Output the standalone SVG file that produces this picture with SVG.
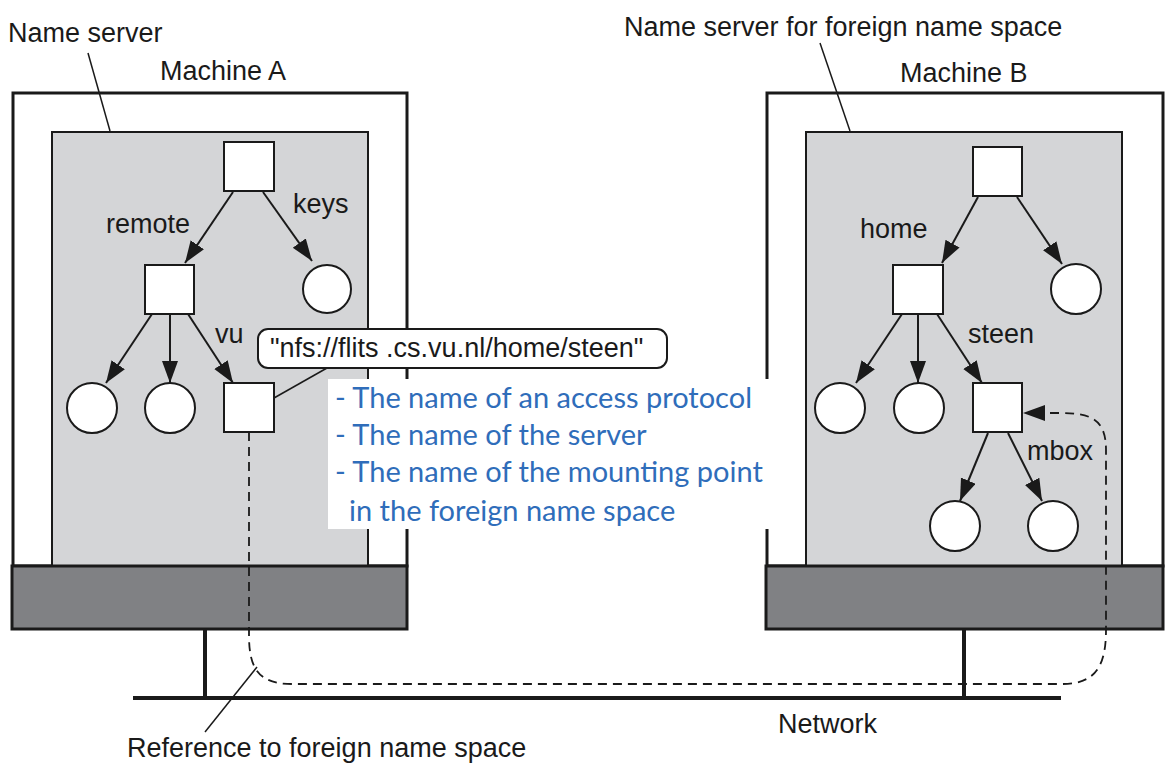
<svg xmlns="http://www.w3.org/2000/svg" width="1170" height="768" viewBox="0 0 1170 768">
<defs>
<style>
.lbl{font-family:"Liberation Sans",Arial,sans-serif;font-size:27px;fill:#1a1a1a}
.blue{font-family:Lato,"Open Sans",sans-serif;font-size:29px;fill:#2F6DBA}
.outer{fill:#fff;stroke:#1a1a1a;stroke-width:3}
.inner{fill:#D4D5D7;stroke:#1a1a1a;stroke-width:2}
.band{fill:#808184;stroke:#1a1a1a;stroke-width:3}
.sq{fill:#fff;stroke:#1a1a1a;stroke-width:2}
.ci{fill:#fff;stroke:#1a1a1a;stroke-width:2}
.edge{fill:none;stroke:#1a1a1a;stroke-width:2;marker-end:url(#ah)}
.thin{fill:none;stroke:#1a1a1a;stroke-width:1.5}
.dash{fill:none;stroke:#1a1a1a;stroke-width:1.8;stroke-dasharray:9,6}
.net{fill:none;stroke:#1a1a1a;stroke-width:4}
</style>
<marker id="ah" markerUnits="userSpaceOnUse" markerWidth="24" markerHeight="18" refX="22" refY="8" orient="auto">
<path d="M0,0 L22,8 L0,16 z" fill="#1a1a1a"/>
</marker>
</defs>

<g id="machineA">
<rect class="outer" x="13" y="93" width="394" height="473"/>
<rect class="inner" x="52" y="132" width="316" height="434"/>
<rect class="band" x="12" y="566" width="395" height="63"/>
</g>
<g id="machineB">
<rect class="outer" x="767" y="93" width="396" height="473"/>
<rect class="inner" x="806" y="132" width="316" height="434"/>
<rect class="band" x="766" y="566" width="397" height="63"/>
</g>

<g id="network">
<line class="net" x1="133" y1="698" x2="1061" y2="698"/>
<line class="net" x1="205" y1="629" x2="205" y2="698"/>
<line class="net" x1="964" y1="629" x2="964" y2="698"/>
</g>

<g id="connectors">
<path class="edge" d="M233,192 L185,263"/>
<path class="edge" d="M263,192 L312,261"/>
<path class="edge" d="M152,314 L106,383"/>
<path class="edge" d="M170,314 L170,383"/>
<path class="edge" d="M188,314 L233,383"/>
<path class="edge" d="M978,197 L942,263"/>
<path class="edge" d="M1017,197 L1062,264"/>
<path class="edge" d="M902,314 L856,383"/>
<path class="edge" d="M918,314 L918,383"/>
<path class="edge" d="M937,314 L982,383"/>
<path class="edge" d="M988,433 L960,501"/>
<path class="edge" d="M1008,433 L1042,501"/>
<path class="dash" d="M249,432 V635 C249,668 258,684 292,684 H1062 C1094,684 1106,668 1106,630 V450 C1106,422 1094,413 1062,413 H1045"/>
<path d="M1023,413 L1045,405 L1045,421 z" fill="#1a1a1a"/>
<line class="thin" x1="274" y1="398" x2="327" y2="368"/>
<line class="thin" x1="88" y1="53" x2="110" y2="131"/>
<line class="thin" x1="820" y1="43" x2="850" y2="131"/>
<line class="thin" x1="257" y1="667" x2="205" y2="732"/>
</g>

<g id="treeA">
<rect class="sq" x="224" y="142" width="50" height="49"/>
<rect class="sq" x="145" y="265" width="49" height="49"/>
<circle class="ci" cx="327" cy="289" r="24"/>
<circle class="ci" cx="92" cy="408" r="25"/>
<circle class="ci" cx="170" cy="408" r="25"/>
<rect class="sq" x="224" y="383" width="50" height="49"/>
</g>
<g id="treeB">
<rect class="sq" x="973" y="147" width="49" height="49"/>
<rect class="sq" x="893" y="265" width="50" height="49"/>
<circle class="ci" cx="1076" cy="289" r="25"/>
<circle class="ci" cx="840" cy="408" r="25"/>
<circle class="ci" cx="919" cy="408" r="25"/>
<rect class="sq" x="973" y="383" width="49" height="49"/>
<circle class="ci" cx="955" cy="526" r="25"/>
<circle class="ci" cx="1053" cy="526" r="25"/>
</g>

<g id="labels">
<text class="lbl" x="8" y="42">Name server</text>
<text class="lbl" x="160" y="80">Machine A</text>
<text class="lbl" x="624" y="36">Name server for foreign name space</text>
<text class="lbl" x="900" y="82">Machine B</text>
<text class="lbl" x="106" y="233">remote</text>
<text class="lbl" x="293" y="213">keys</text>
<text class="lbl" x="215" y="343">vu</text>
<text class="lbl" x="860" y="238">home</text>
<text class="lbl" x="968" y="343">steen</text>
<text class="lbl" x="1027" y="460">mbox</text>
<text class="lbl" x="778" y="733">Network</text>
<text class="lbl" x="127" y="757">Reference to foreign name space</text>
</g>

<g id="callout">
<rect x="258" y="329" width="409" height="39" rx="10" fill="#fff" stroke="#1a1a1a" stroke-width="2"/>
<text class="lbl" x="270" y="357">"nfs://flits .cs.vu.nl/home/steen"</text>
</g>

<g id="note">
<rect x="328" y="379" width="442" height="150" fill="#fff"/>
<text class="blue" x="335" y="408">- The name of an access protocol</text>
<text class="blue" x="335" y="445">- The name of the server</text>
<text class="blue" x="335" y="482">- The name of the mounting point</text>
<text class="blue" x="349" y="521">in the foreign name space</text>
</g>
</svg>
